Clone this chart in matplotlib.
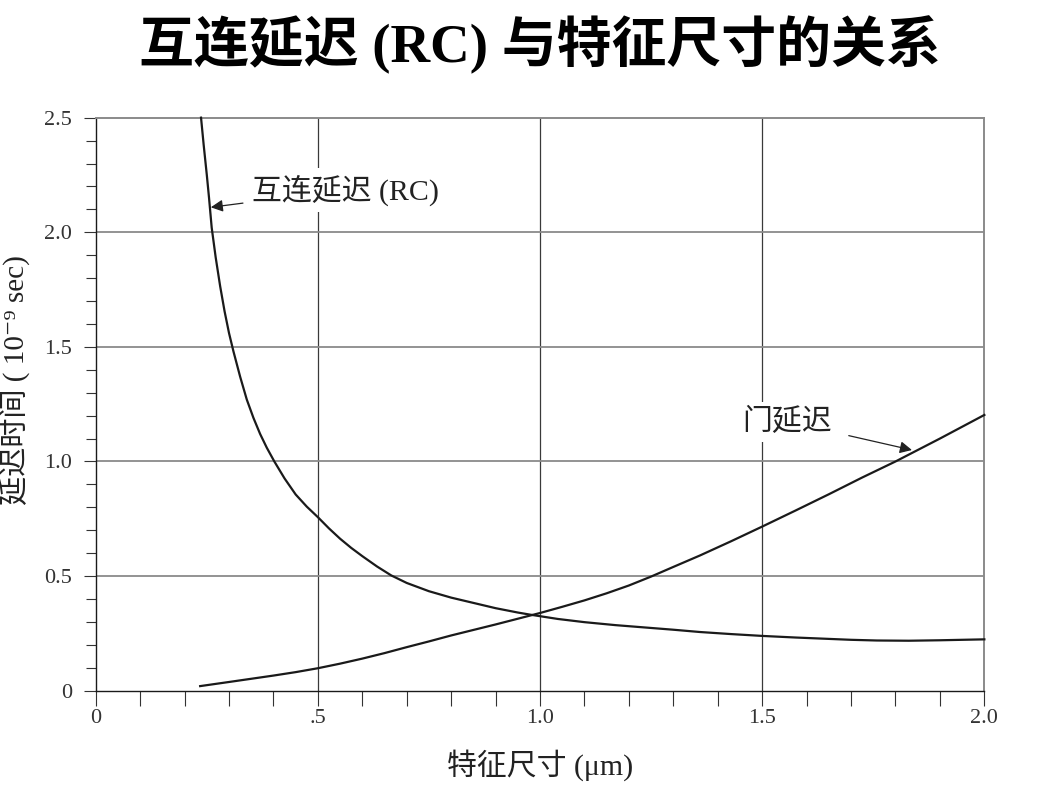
import matplotlib
matplotlib.use("Agg")
import matplotlib.pyplot as plt
from matplotlib.ticker import MultipleLocator, FixedLocator, FixedFormatter

plt.rcParams["font.family"] = ["Liberation Serif", "Noto Sans CJK SC", "DejaVu Sans"]

# interconnect (RC) delay
rc_size = [0.237, 0.243, 0.25, 0.255, 0.261, 0.27, 0.28, 0.29, 0.3, 0.31, 0.325, 0.34, 0.355,
           0.37, 0.385, 0.402, 0.425, 0.45, 0.475, 0.5, 0.525, 0.55, 0.575, 0.6, 0.633,
           0.665, 0.7, 0.75, 0.8, 0.85, 0.9, 0.95, 0.977, 1.04, 1.1, 1.17, 1.248, 1.3,
           1.36, 1.43, 1.5, 1.575, 1.65, 1.7, 1.758, 1.83, 1.9, 2.0]
rc_delay = [2.5, 2.38, 2.25, 2.15, 2.02, 1.89, 1.765, 1.655, 1.56, 1.48, 1.37, 1.27, 1.19,
            1.12, 1.06, 1.0, 0.926, 0.856, 0.803, 0.757, 0.708, 0.663, 0.623, 0.587, 0.542,
            0.503, 0.47, 0.434, 0.406, 0.383, 0.36, 0.341, 0.332, 0.313, 0.299, 0.286, 0.274, 0.266,
            0.256, 0.247, 0.239, 0.232, 0.226, 0.222, 0.219, 0.218, 0.22, 0.224]

# gate delay
gate_size = [0.235, 0.3, 0.35, 0.4, 0.45, 0.5, 0.55, 0.6, 0.65, 0.7, 0.75, 0.8, 0.85, 0.9,
             0.95, 1.0, 1.05, 1.1, 1.15, 1.2, 1.25, 1.3, 1.36, 1.43, 1.5, 1.575, 1.65, 1.725,
             1.8, 1.9, 2.0]
gate_delay = [0.02, 0.038, 0.052, 0.066, 0.081, 0.098, 0.118, 0.14, 0.164, 0.19, 0.215, 0.241,
              0.265, 0.289, 0.314, 0.339, 0.366, 0.394, 0.425, 0.459, 0.498, 0.54, 0.59, 0.652,
              0.716, 0.786, 0.857, 0.93, 1.0, 1.1, 1.203]

x_ticks = [0, 0.5, 1.0, 1.5, 2.0]
x_labels = ["0", ".5", "1.0", "1.5", "2.0"]
y_ticks = [0, 0.5, 1.0, 1.5, 2.0, 2.5]
y_labels = ["0", "0.5", "1.0", "1.5", "2.0", "2.5"]

fig = plt.figure(figsize=(10.52, 7.95), dpi=100)
ax = fig.add_axes([0.091, 0.1312, 0.8447, 0.7208])
ax.set_xlim(0, 2.0)
ax.set_ylim(0, 2.5)

# grid: vertical dark and thin, horizontal lighter
for gx in [0.5, 1.0, 1.5]:
    ax.axvline(gx, color="#3a3a3a", linewidth=0.9, zorder=1)
for gy in [0.5, 1.0, 1.5, 2.0]:
    ax.axhline(gy, color="#8a8a8a", linewidth=1.3, zorder=1)

ax.plot(rc_size, rc_delay, color="#1a1a1a", linewidth=1.6, zorder=3, clip_on=False)
ax.plot(gate_size, gate_delay, color="#1a1a1a", linewidth=1.6, zorder=3, clip_on=False)

label_kw = dict(fontsize=21.5, color="#222222", zorder=4,
                bbox={"boxstyle": "square,pad=0.2", "facecolor": "white", "edgecolor": "none"})
arrow_kw = {"arrowstyle": "-|>", "color": "#222222", "linewidth": 0.9, "mutation_scale": 18}
ax.annotate("互连延迟 (RC)", xy=(0.259, 2.109), xytext=(0.351, 2.185), ha="left", va="center",
            arrowprops=dict(arrow_kw, shrinkA=2, shrinkB=0), **label_kw)
ax.annotate("门延迟", xy=(1.837, 1.05), xytext=(1.657, 1.174), ha="right", va="center",
            arrowprops=dict(arrow_kw, shrinkA=8, shrinkB=0), **label_kw)

# spines
for side in ["left", "bottom"]:
    ax.spines[side].set_color("#1a1a1a")
    ax.spines[side].set_linewidth(1.0)
for side in ["top", "right"]:
    ax.spines[side].set_color("#8a8a8a")
    ax.spines[side].set_linewidth(1.4)

ax.xaxis.set_major_locator(FixedLocator(x_ticks))
ax.xaxis.set_major_formatter(FixedFormatter(x_labels))
ax.yaxis.set_major_locator(FixedLocator(y_ticks))
ax.yaxis.set_major_formatter(FixedFormatter(y_labels))
ax.xaxis.set_minor_locator(MultipleLocator(0.1))
ax.yaxis.set_minor_locator(MultipleLocator(0.1))
ax.tick_params(axis="both", which="both", direction="out", color="#333333", width=0.8,
               labelsize=16, labelcolor="#333333")
ax.tick_params(axis="x", which="both", length=11, pad=2)
ax.tick_params(axis="y", which="major", length=9, pad=8)
ax.tick_params(axis="y", which="minor", length=7.5)

fig.text(0.513, 0.0375, "特征尺寸 (μm)", fontsize=21.5, color="#222222", ha="center", va="center")
fig.text(0.0145, 0.522, "延迟时间 ( 10⁻⁹ sec)", fontsize=21, color="#222222",
         rotation=90, ha="center", va="center")

fig.text(0.513, 0.943, "互连延迟 (RC) 与特征尺寸的关系", fontsize=39.5, fontweight="bold",
         color="black", ha="center", va="center")

fig.savefig("out.png", dpi=100, facecolor="white")
plt.close(fig)
